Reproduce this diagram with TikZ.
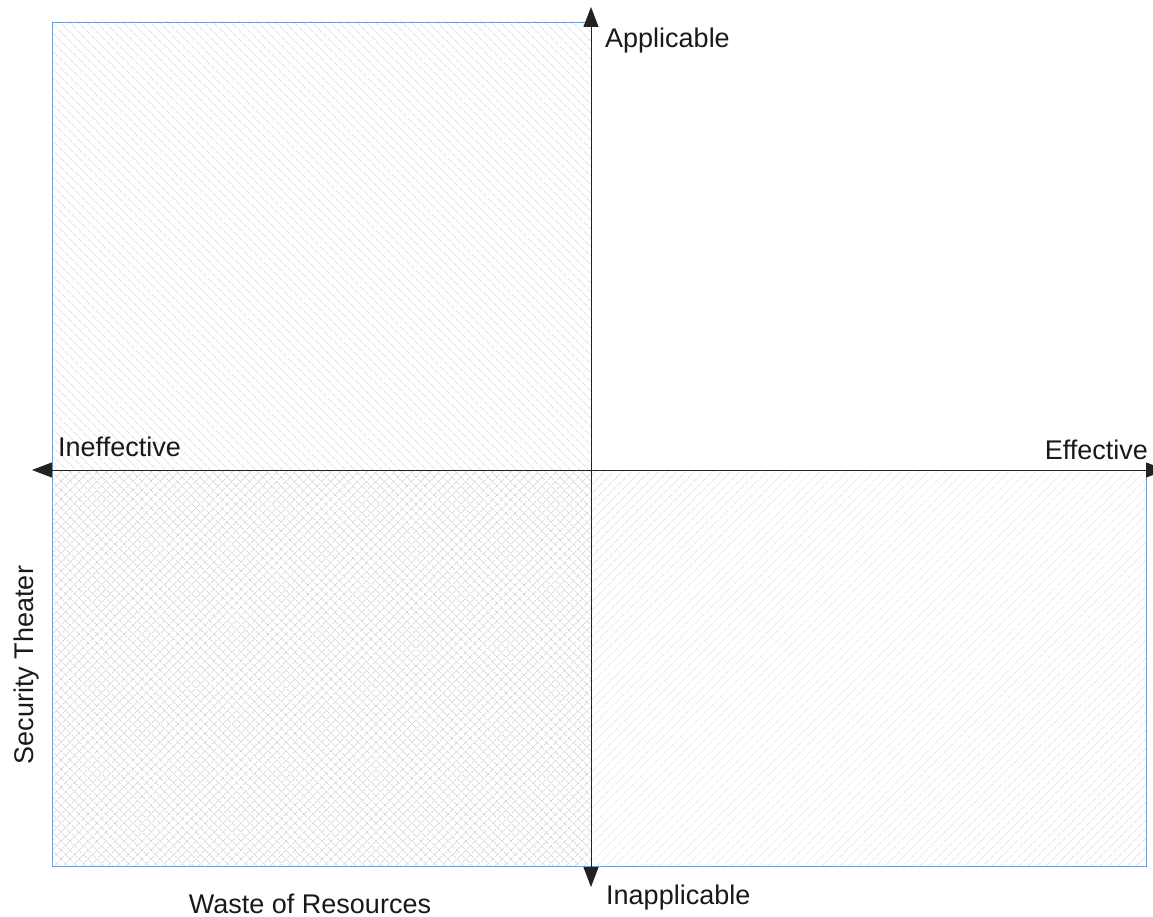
\documentclass[tikz,border=0pt]{standalone}
\usepackage{fontspec}
\setmainfont{Liberation Sans}
\usetikzlibrary{patterns.meta,arrows.meta}
\definecolor{edgeblue}{HTML}{729FCF}
\definecolor{hatchgray}{HTML}{CFCFCF}
\definecolor{crossgray}{HTML}{C6C6C6}
\definecolor{axisgray}{HTML}{222222}
\begin{document}
\begin{tikzpicture}[x=1pt,y=-1pt,
  quad/.style={draw=edgeblue, line width=0.8pt},
  hatchdown/.style={pattern={Lines[angle=-45,distance=6.5pt,line width=0.7pt]}, pattern color=hatchgray},
  hatchup/.style={pattern={Lines[angle=45,distance=6.5pt,line width=0.7pt]}, pattern color=hatchgray},
  crossdown/.style={pattern={Lines[angle=-45,distance=6.5pt,line width=0.7pt]}, pattern color=crossgray},
  crossup/.style={pattern={Lines[angle=45,distance=6.5pt,line width=0.7pt]}, pattern color=crossgray},
  axisline/.style={draw=axisgray, line width=1pt,
    {Triangle[length=20pt,width=15pt]}-{Triangle[length=20pt,width=15pt]}},
  lbl/.style={font=\fontsize{27}{32}\selectfont, inner sep=0pt, text=black!90}
]
\useasboundingbox (0,0) rectangle (1153,917);

% quadrants
\path[hatchdown] (52,22) rectangle (591,470);
\draw[quad] (591,22) -- (52,22) -- (52,470);

\path[crossdown] (52,470) rectangle (591,866);
\path[crossup] (52,470) rectangle (591,866);
\draw[quad] (52,470) -- (52,866) -- (591,866);

\path[hatchup] (591,470) rectangle (1146,866);
\draw[quad] (591,866) -- (1146,866) -- (1146,470);

% axes
\coordinate (top) at (591,7);
\coordinate (bottom) at (591,887);
\coordinate (left) at (32,470);
\coordinate (right) at (1166,470);
\draw[axisline] (bottom) -- (top);
\draw[axisline] (left) -- (right);

% labels
\node[lbl, anchor=base west] (applicable) at (605,48) {Applicable};
\node[lbl, anchor=base west] (inapplicable) at (606,904) {Inapplicable};
\node[lbl, anchor=base west] (ineffective) at (58,456) {Ineffective};
\node[lbl, anchor=base east] (effective) at (1148,459) {Effective};
\node[lbl, anchor=base] (waste) at (310,913) {Waste of Resources};
\node[lbl, anchor=base, rotate=90] (theater) at (33,665) {Security Theater};
\end{tikzpicture}
\end{document}
